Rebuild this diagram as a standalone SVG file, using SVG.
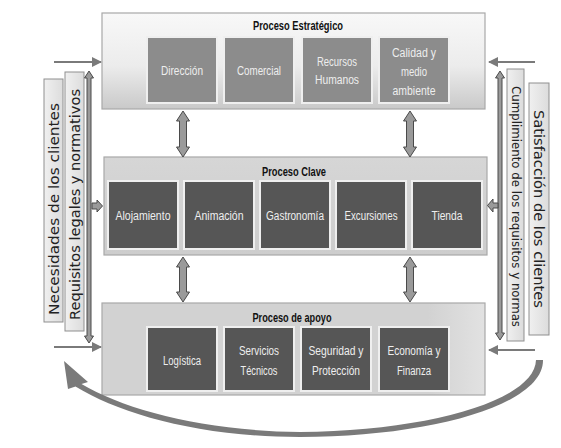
<svg xmlns="http://www.w3.org/2000/svg" width="561" height="448" viewBox="0 0 561 448">
<defs>
<linearGradient id="gTop" x1="0" y1="0" x2="0" y2="1">
<stop offset="0" stop-color="#f8f8f8"/><stop offset="0.55" stop-color="#ececec"/><stop offset="1" stop-color="#c9c9c9"/>
</linearGradient>
<linearGradient id="gMid" x1="0" y1="0" x2="0" y2="1">
<stop offset="0" stop-color="#d6d6d6"/><stop offset="1" stop-color="#cdcdcd"/>
</linearGradient>
<linearGradient id="gBot" x1="0" y1="0" x2="1" y2="0">
<stop offset="0" stop-color="#d2d2d2"/><stop offset="0.85" stop-color="#d2d2d2"/><stop offset="1" stop-color="#e2e2e2"/>
</linearGradient>
<linearGradient id="gBar" x1="0" y1="0" x2="1" y2="0">
<stop offset="0" stop-color="#f0f0f0"/><stop offset="1" stop-color="#dcdcdc"/>
</linearGradient>
<marker id="ah" viewBox="0 0 10 10" refX="9" refY="5" markerWidth="5" markerHeight="5" orient="auto">
<path d="M0,0 L10,5 L0,10 Z" fill="#7a7a7a"/>
</marker>
</defs>
<style>
.main{stroke:#a8a8a8;stroke-width:1.2}
.ib1{fill:#8c8c8c;stroke:#efefef;stroke-width:2}
.ib2{fill:#565656;stroke:#efefef;stroke-width:2}
.bt{font-family:"Liberation Sans",Arial,sans-serif;font-size:12.5px;fill:#eeeeee;text-anchor:middle}
.tt{font-family:"Liberation Sans",Arial,sans-serif;font-size:12px;font-weight:bold;fill:#111;text-anchor:middle}
.bar{fill:url(#gBar);stroke:#8f8f8f;stroke-width:1}
.vt{font-family:"DejaVu Sans",Verdana,sans-serif;fill:#222;text-anchor:middle}
.thin{stroke:#7a7a7a;stroke-width:2;fill:none;marker-end:url(#ah)}
.darr{fill:#9a9a9a;stroke:#4a4a4a;stroke-width:1}
</style>
<rect width="561" height="448" fill="#ffffff"/>

<g id="estrategico">
<rect class="main" x="102" y="13" width="383" height="96" fill="url(#gTop)"/>
<text class="tt" x="298" y="30" textLength="90" lengthAdjust="spacingAndGlyphs">Proceso Estratégico</text>
<g id="direccion"><rect class="ib1" x="147" y="37" width="70" height="66"/><text class="bt" x="182" y="75" textLength="42" lengthAdjust="spacingAndGlyphs">Dirección</text></g>
<g id="comercial"><rect class="ib1" x="224" y="37" width="70" height="66"/><text class="bt" x="259" y="75" textLength="44" lengthAdjust="spacingAndGlyphs">Comercial</text></g>
<g id="rrhh"><rect class="ib1" x="302" y="37" width="70" height="66"/><text class="bt" x="337" y="66" textLength="40" lengthAdjust="spacingAndGlyphs">Recursos</text><text class="bt" x="337" y="84" textLength="44" lengthAdjust="spacingAndGlyphs">Humanos</text></g>
<g id="calidad"><rect class="ib1" x="379" y="37" width="70" height="66"/><text class="bt" x="414" y="57" textLength="44" lengthAdjust="spacingAndGlyphs">Calidad y</text><text class="bt" x="414" y="76" textLength="26" lengthAdjust="spacingAndGlyphs">medio</text><text class="bt" x="414" y="95" textLength="43" lengthAdjust="spacingAndGlyphs">ambiente</text></g>
</g>

<g id="clave">
<rect class="main" x="104" y="157" width="383" height="98" fill="url(#gMid)"/>
<text class="tt" x="294" y="176" textLength="64" lengthAdjust="spacingAndGlyphs">Proceso Clave</text>
<g id="alojamiento"><rect class="ib2" x="108" y="181" width="70" height="68"/><text class="bt" x="143" y="220" textLength="55" lengthAdjust="spacingAndGlyphs">Alojamiento</text></g>
<g id="animacion"><rect class="ib2" x="184" y="181" width="70" height="68"/><text class="bt" x="219" y="220" textLength="49" lengthAdjust="spacingAndGlyphs">Animación</text></g>
<g id="gastronomia"><rect class="ib2" x="260" y="181" width="70" height="68"/><text class="bt" x="295" y="220" textLength="58" lengthAdjust="spacingAndGlyphs">Gastronomía</text></g>
<g id="excursiones"><rect class="ib2" x="336" y="181" width="70" height="68"/><text class="bt" x="371" y="220" textLength="53" lengthAdjust="spacingAndGlyphs">Excursiones</text></g>
<g id="tienda"><rect class="ib2" x="412" y="181" width="70" height="68"/><text class="bt" x="447" y="220" textLength="31" lengthAdjust="spacingAndGlyphs">Tienda</text></g>
</g>

<g id="apoyo">
<rect class="main" x="102" y="303" width="383" height="92" fill="url(#gBot)"/>
<text class="tt" x="292" y="322" textLength="79" lengthAdjust="spacingAndGlyphs">Proceso de apoyo</text>
<g id="logistica"><rect class="ib2" x="147" y="327" width="70" height="64"/><text class="bt" x="182" y="365" textLength="38" lengthAdjust="spacingAndGlyphs">Logística</text></g>
<g id="servicios"><rect class="ib2" x="224" y="327" width="70" height="64"/><text class="bt" x="259" y="355" textLength="40" lengthAdjust="spacingAndGlyphs">Servicios</text><text class="bt" x="259" y="375" textLength="37" lengthAdjust="spacingAndGlyphs">Técnicos</text></g>
<g id="seguridad"><rect class="ib2" x="301" y="327" width="70" height="64"/><text class="bt" x="336" y="355" textLength="55" lengthAdjust="spacingAndGlyphs">Seguridad y</text><text class="bt" x="336" y="375" textLength="48" lengthAdjust="spacingAndGlyphs">Protección</text></g>
<g id="economia"><rect class="ib2" x="379" y="327" width="70" height="64"/><text class="bt" x="414" y="355" textLength="53" lengthAdjust="spacingAndGlyphs">Economía y</text><text class="bt" x="414" y="375" textLength="34" lengthAdjust="spacingAndGlyphs">Finanza</text></g>
</g>

<g id="izquierda">
<rect class="bar" x="44" y="79" width="19" height="243"/>
<text class="vt" font-size="14" transform="translate(58.5,209) rotate(-90)" textLength="212" lengthAdjust="spacingAndGlyphs">Necesidades de los clientes</text>
<rect class="bar" x="65" y="72" width="19" height="259"/>
<text class="vt" font-size="13.5" transform="translate(79.5,204.5) rotate(-90)" textLength="231" lengthAdjust="spacingAndGlyphs">Requisitos legales y normativos</text>
</g>

<g id="derecha">
<rect class="bar" x="507" y="69" width="17" height="272"/>
<text class="vt" font-size="11.5" transform="translate(511.5,206.5) rotate(90)" textLength="241" lengthAdjust="spacingAndGlyphs">Cumplimiento de los requisitos y normas</text>
<rect class="bar" x="529" y="83" width="20" height="252"/>
<text class="vt" font-size="14" transform="translate(534,209) rotate(90)" textLength="198" lengthAdjust="spacingAndGlyphs">Satisfacción de los clientes</text>
</g>

<g id="conectores">
<line class="thin" x1="54" y1="62" x2="101" y2="62"/>
<line class="thin" x1="54" y1="347" x2="101" y2="347"/>
<line class="thin" x1="535" y1="62" x2="489" y2="62"/>
<line class="thin" x1="535" y1="350" x2="489" y2="350"/>
<path class="darr" d="M89 71 L93.5 78 L91 78 L91 336 L93.5 336 L89 343 L84.5 336 L87 336 L87 78 L84.5 78 Z"/>
<path class="darr" d="M500 71 L504.5 78 L502 78 L502 333 L504.5 333 L500 340 L495.5 333 L498 333 L498 78 L495.5 78 Z"/>
<path class="darr" d="M92 203 L97 203 L97 200 L102.5 206 L97 212 L97 209 L92 209 Z"/>
<path class="darr" d="M498 203 L493 203 L493 199 L487.5 205.5 L493 212 L493 208 L498 208 Z"/>
<path class="darr" d="M183 111 L189.5 121 L186.5 121 L186.5 147 L189.5 147 L183 157 L176.5 147 L179.5 147 L179.5 121 L176.5 121 Z"/>
<path class="darr" d="M410 111 L416.5 121 L413.5 121 L413.5 147 L416.5 147 L410 157 L403.5 147 L406.5 147 L406.5 121 L403.5 121 Z"/>
<path class="darr" d="M183 257 L189.5 267 L186.5 267 L186.5 292 L189.5 292 L183 302 L176.5 292 L179.5 292 L179.5 267 L176.5 267 Z"/>
<path class="darr" d="M410 257 L416.5 267 L413.5 267 L413.5 292 L416.5 292 L410 302 L403.5 292 L406.5 292 L406.5 267 L403.5 267 Z"/>
<path fill="#7a7a7a" d="M64 361 L88 382 L81.5 384 C125 410 205 431 300 432 C430 431 535 400 536 360 L543 360 C544 405 430 437 300 437 C200 437 120 414 75.5 386.5 L68 389 Z"/>
</g>
</svg>
